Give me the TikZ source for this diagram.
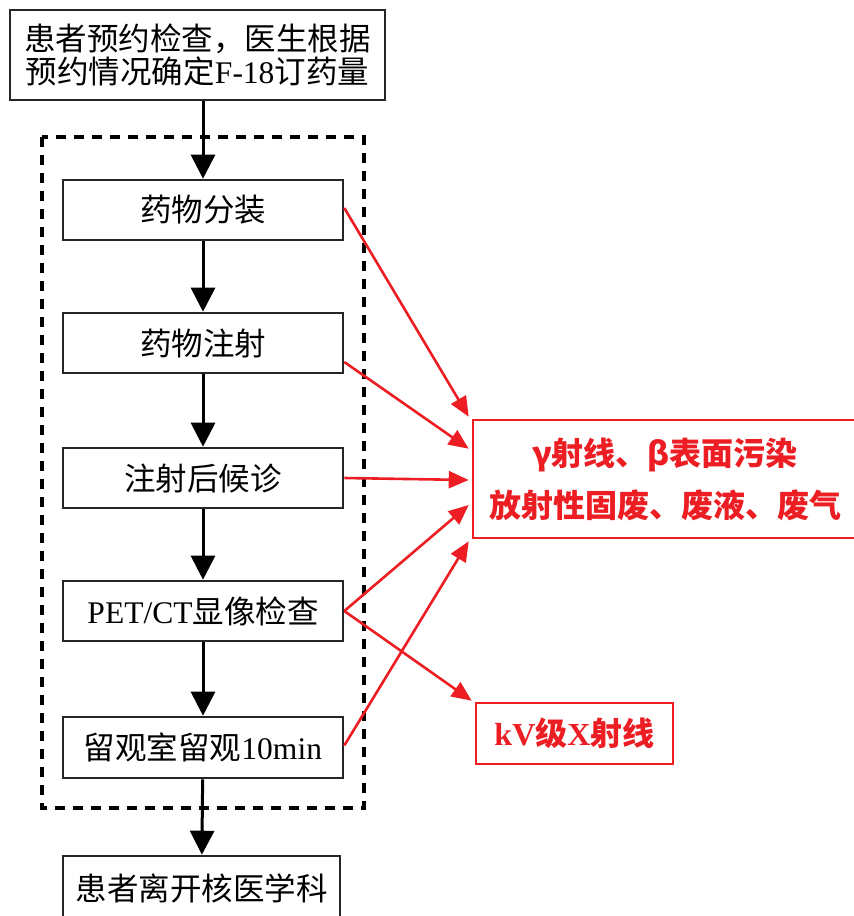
\documentclass[tikz,border=0pt]{standalone}
\usepackage{fontspec}
\setmainfont{Liberation Serif}
\newfontfamily\cjk{Noto Sans CJK SC}
\usetikzlibrary{arrows.meta,calc}
\definecolor{myred}{RGB}{236,30,36}
\newcommand\zh[1]{{\cjk #1}}
\begin{document}
\begin{tikzpicture}[x=1pt,y=-1pt,
  blk/.style={draw=black!85,line width=2.6pt,minimum width=280pt,minimum height=60pt,inner sep=0pt,align=center,font=\fontsize{31.5}{33}\selectfont},
  redbox/.style={draw=myred,line width=2.6pt,inner sep=0pt,align=center,text=myred,font=\fontsize{32}{52}\selectfont\bfseries},
  barrow/.style={line width=3pt,-{Triangle[length=24pt,width=24pt]}},
  rarrow/.style={draw=myred,line width=2.6pt,-{Triangle[length=20pt,width=17pt]}}]
\clip (0,0) rectangle (854,916);
\fill[white] (0,0) rectangle (854,916);
% dashed frame
\draw[line width=4pt,dash pattern=on 10pt off 8pt] (42,137) rectangle (364,808);
% nodes
\node[blk,minimum width=375pt,minimum height=90pt] (top) at (197.5,55) {\zh{患者预约检查，医生根据}\\\zh{预约情况确定}F-18\zh{订药量}};
\node[blk] (b1) at (203,210) {\zh{药物分装}};
\node[blk] (b2) at (203,343) {\zh{药物注射}};
\node[blk] (b3) at (203,478) {\zh{注射后候诊}};
\node[blk] (b4) at (203,611) {PET/CT\zh{显像检查}};
\node[blk,minimum height=61pt] (b5) at (203,747.5) {\zh{留观室留观}10min};
\node[blk,minimum width=277pt,minimum height=64pt] (b6) at (201.5,888) {\zh{患者离开核医学科}};
\node[redbox,minimum width=384pt,minimum height=118pt] (r1) at (665,479) {\zh{γ射线、β表面污染}\\\zh{放射性固废、废液、废气}};
\node[redbox,minimum width=197pt,minimum height=61pt] (r2) at (574.5,733.5) {kV\zh{级}X\zh{射线}};
% black arrows
\draw[barrow] (top.south -| b1.north) -- (b1.north);
\draw[barrow] (b1) -- (b2);
\draw[barrow] (b2) -- (b3);
\draw[barrow] (b3) -- (b4);
\draw[barrow] (b4) -- (b5);
\draw[barrow] (b5) -- (b6);
% red arrows
\draw[rarrow] ($(b1.east)+(0,-2)$) -- ($(r1.north west)+(-3,-2)$);
\draw[rarrow] ($(b2.east)+(0,19)$) -- ($(r1.north west)+(-3,30)$);
\draw[rarrow] (b3.east) -- ($(r1.west)+(-3,1)$);
\draw[rarrow] (b4.east) -- ($(r1.west)+(-3,26)$);
\draw[rarrow] ($(b5.east)+(0,-2)$) -- ($(r1.south west)+(-3,2)$);
\draw[rarrow] (b4.east) -- ($(r2.north west)+(-3,-1)$);
\end{tikzpicture}
\end{document}
